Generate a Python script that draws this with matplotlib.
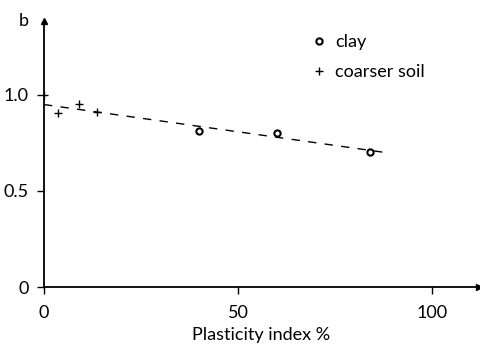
import matplotlib.pyplot as plt

plt.rcParams['font.family'] = ['Lato', 'DejaVu Sans']

# values
clay_pi = [40, 60, 84]
clay_b = [0.81, 0.80, 0.705]
coarse_pi = [0, 3.7, 9, 13.6]
coarse_b = [1.0, 0.905, 0.951, 0.913]
fit_pi = [0, 88]
fit_b = [0.95, 0.70]

xticks = [0, 50, 100]
yticks = [0, 0.5, 1.0]
ytick_labels = ['0', '0.5', '1.0']

fig = plt.figure(figsize=(4.81, 3.5), dpi=100)
ax = fig.add_axes([0.0915, 0.18, 0.904, 0.76])

ax.plot(fit_pi, fit_b, color='black', lw=1.0, dashes=(6, 6))
ax.plot(clay_pi, clay_b, 'o', ms=4.5, mfc='white', mec='black', mew=1.5,
        ls='none', label='clay')
ax.plot(coarse_pi, coarse_b, '+', ms=6, color='black', mew=1.0,
        ls='none', label='coarser soil')

ax.set_xlim(0, 112)
ax.set_ylim(0, 1.385)
for s in ['top', 'right']:
    ax.spines[s].set_visible(False)
ax.spines['left'].set_linewidth(1.3)
ax.spines['bottom'].set_linewidth(1.3)

ax.set_xticks(xticks)
ax.set_yticks(yticks)
ax.set_yticklabels(ytick_labels)
ax.tick_params(axis='both', direction='out', length=5, width=1.0,
               labelsize=13)
ax.tick_params(axis='x', pad=8)
ax.tick_params(axis='y', pad=6)

# axis arrow heads
ax.plot(1, 0, '>', color='black', ms=5, transform=ax.transAxes, clip_on=False)
ax.plot(0, 1, '^', color='black', ms=5, transform=ax.transAxes, clip_on=False)

ax.set_xlabel('Plasticity index %', fontsize=13, labelpad=4)
ax.text(-0.035, 1.0, 'b', transform=ax.transAxes, fontsize=13,
        ha='right', va='center')

ax.legend(loc='upper left', bbox_to_anchor=(0.595, 0.985), frameon=False,
          fontsize=13, handlelength=0.8, handletextpad=0.5,
          labelspacing=0.8, borderpad=0)

fig.savefig('out.png', dpi=100)
